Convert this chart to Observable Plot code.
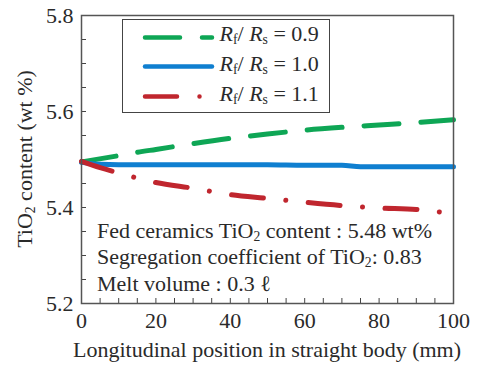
<!DOCTYPE html>
<html><head><meta charset="utf-8">
<script src="https://cdn.jsdelivr.net/npm/d3@7"></script>
<script src="https://cdn.jsdelivr.net/npm/@observablehq/plot@0.6"></script>
<style>
body{margin:0;background:#fff;}
#wrap{position:relative;width:478px;height:367px;font-family:"Liberation Serif","Times New Roman",serif;color:#2a2a2a;font-size:22px;}
#wrap svg{display:block;}
.abs{position:absolute;white-space:nowrap;line-height:22px;}
sub{font-size:62%;vertical-align:-0.22em;line-height:0;}
#legend{position:absolute;left:122px;top:19px;width:208px;height:94px;box-sizing:border-box;border:1.5px solid #444;background:#fff;}
i{font-style:italic;}
</style></head><body><div id="wrap"></div>
<script>
// ---- data ----
const xTicks = [0, 20, 40, 60, 80, 100];
const xMinorTicks = [0,5,10,15,20,25,30,35,40,45,50,55,60,65,70,75,80,85,90,95,100];
const yTicks = [5.2, 5.4, 5.6, 5.8];
const yMinorTicks = [5.2,5.25,5.3,5.35,5.4,5.45,5.5,5.55,5.6,5.65,5.7,5.75,5.8];

const ratioLabels = ["0.9", "1.0", "1.1"];
const seriesColors = ["#0ea655", "#0f7fd0", "#c0262e"];
const seriesDash = ["35,22", null, "32,22.5,0.01,22.5"];

const posA = [0, 10, 15, 20, 25, 30, 40, 50, 60, 70, 80, 90, 100];
const valA = [5.495, 5.508, 5.515, 5.521, 5.527, 5.533, 5.544, 5.553, 5.561, 5.567, 5.572, 5.577, 5.583];
const posB = [0, 5, 10, 20, 30, 40, 50, 60, 70, 75, 80, 90, 100];
const valB = [5.494, 5.490, 5.489, 5.489, 5.489, 5.489, 5.489, 5.488, 5.488, 5.485, 5.485, 5.485, 5.485];
const posC = [0, 5, 10, 20, 30, 40, 50, 60, 70, 80, 90, 97];
const valC = [5.496, 5.483, 5.472, 5.452, 5.440, 5.427, 5.419, 5.411, 5.404, 5.399, 5.396, 5.390];

const series = [
  {pos: posA, val: valA},
  {pos: posB, val: valB},
  {pos: posC, val: valC}
];

const xLabel = "Longitudinal position in straight body (mm)";
const notes = [
  "Fed ceramics TiO<sub>2</sub> content : 5.48 wt%",
  "Segregation coefficient of TiO<sub>2</sub>: 0.83",
  "Melt volume : 0.3 &#8467;"
];

// ---- chart ----
const lineMarks = series.map((s, i) => Plot.line(s.pos.map((p, j) => ({x: p, y: s.val[j]})), {
  x: "x", y: "y", stroke: seriesColors[i], strokeWidth: 5,
  strokeDasharray: seriesDash[i] || undefined, strokeLinecap: "round",
  curve: "monotone-x"
}));

const chart = Plot.plot({
  width: 478, height: 367,
  marginLeft: 81, marginRight: 25, marginTop: 15, marginBottom: 64,
  style: {fontFamily: "'Liberation Serif', 'Times New Roman', serif", fontSize: "22px", color: "#2a2a2a", background: "transparent"},
  x: {domain: [0, 100]},
  y: {domain: [5.2, 5.8]},
  marks: [
    Plot.axisX({ticks: xMinorTicks, tickSize: 5, dy: -5, fill: "none", label: null, stroke: "#444"}),
    Plot.axisX({ticks: xTicks, tickSize: 0, tickPadding: 9, label: null, tickFormat: d => String(d)}),
    Plot.axisY({ticks: yMinorTicks, tickSize: 5, dx: 5, fill: "none", label: null, stroke: "#444"}),
    Plot.axisY({ticks: yTicks, tickSize: 0, tickPadding: 8, label: null, tickFormat: d => d.toFixed(1)}),
    ...lineMarks,
    Plot.frame({stroke: "#555", strokeWidth: 1.5})
  ]
});
const wrap = document.getElementById("wrap");
wrap.appendChild(chart);

// y label
const yl = document.createElement("div");
yl.className = "abs";
yl.innerHTML = "TiO<sub>2</sub> content (wt %)";
yl.style.left = "24.6px"; yl.style.top = "159px";
yl.style.transform = "translate(-50%,-50%) rotate(-90deg)";
wrap.appendChild(yl);

// x label
const xl = document.createElement("div");
xl.className = "abs";
xl.textContent = xLabel;
xl.style.left = "267px"; xl.style.top = "338.6px";
xl.style.transform = "translateX(-50%)";
wrap.appendChild(xl);

// notes
notes.forEach((t, i) => {
  const d = document.createElement("div");
  d.className = "abs";
  d.innerHTML = t;
  d.style.left = "97px";
  d.style.top = (219.6 + [0, 26, 53][i]) + "px";
  wrap.appendChild(d);
});

// legend
const leg = document.createElement("div");
leg.id = "legend";
wrap.appendChild(leg);
const lsvg = d3.select(leg).append("svg").attr("width", 100).attr("height", 91)
  .style("position", "absolute").style("left", "0px").style("top", "0px");
const rowY = [17.5, 46.5, 76.5];
ratioLabels.forEach((r, i) => {
  const ln = lsvg.append("line").attr("x1", 22).attr("x2", 89).attr("y1", rowY[i]).attr("y2", rowY[i])
    .attr("stroke", seriesColors[i]).attr("stroke-width", 4.5).attr("stroke-linecap", "round");
  if (seriesDash[i]) ln.attr("stroke-dasharray", seriesDash[i]);
  const t = document.createElement("div");
  t.className = "abs";
  t.innerHTML = `<i>R</i><sub>f</sub>/ <i>R</i><sub>s</sub> = ${r}`;
  t.style.left = "96.5px";
  t.style.top = [3.1, 33.1, 63.1][i] + "px";
  leg.appendChild(t);
});
</script>
</body></html>
